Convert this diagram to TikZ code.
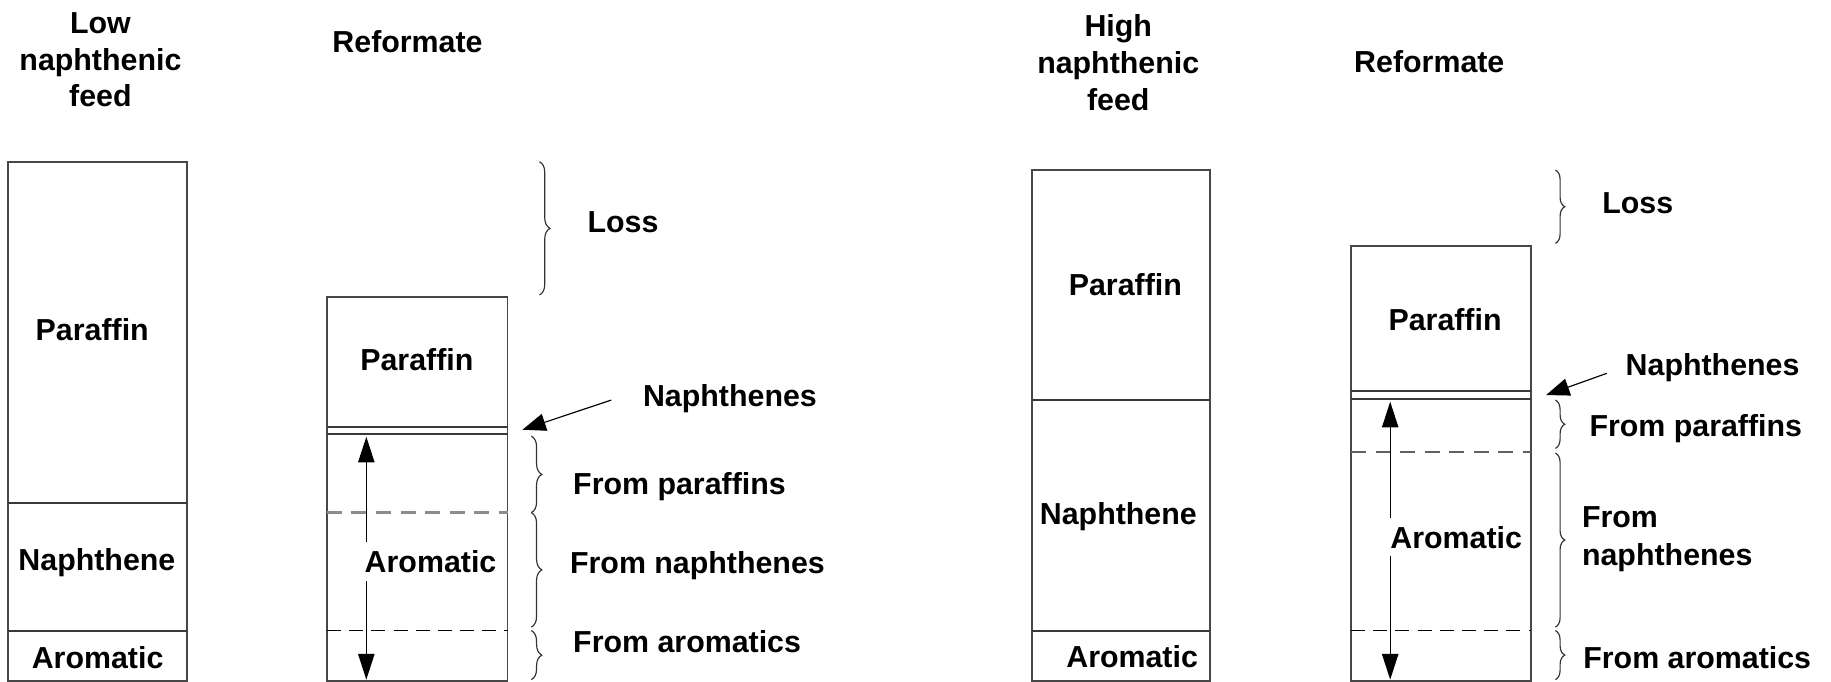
\documentclass[tikz,border=0pt]{standalone}
\usepackage{fontspec}
\setmainfont{Liberation Sans}
\usetikzlibrary{arrows.meta,decorations.pathreplacing}
\begin{document}
\begin{tikzpicture}[x=1pt,y=-1pt,
  lbl/.style={font=\bfseries\fontsize{26}{32}\selectfont, inner sep=0pt},
  ttl/.style={inner sep=0pt, align=center, font=\bfseries\fontsize{26}{31.4}\selectfont},
  twol/.style={inner sep=0pt, align=left, font=\bfseries\fontsize{26}{32.5}\selectfont},
  box/.style={draw=black!72, line width=1.7pt},
  divl/.style={draw=black!78, line width=1.7pt},
  gdash/.style={draw=black!45, line width=2pt, dash pattern=on 13pt off 8pt},
  kdash/.style={draw=black, line width=1.3pt, dash pattern=on 12pt off 7pt},
  brc/.style={draw=black!80, line width=1pt, decorate, decoration={brace, amplitude=9pt}},
  darr/.style={draw, line width=1pt, {Triangle[length=22pt,width=14pt]}-{Triangle[length=22pt,width=14pt]}},
  parr/.style={draw, line width=1pt, -{Triangle[length=20pt,width=15pt]}},
  aro/.style={lbl, fill=white, inner xsep=2pt, inner ysep=7pt}
]
\useasboundingbox (0,0) rectangle (1568,584);

% ---------------- Left panel ----------------
\node[ttl] (t1) at (86,51.4) {Low\\naphthenic\\feed};
\node[lbl] (r1) at (349,35.7) {Reformate};

% feed box
\draw[box] (6.5,138.5) rectangle (160,583);
\draw[divl] (6.5,431) -- (160,431);
\draw[divl] (6.5,540) -- (160,540);
\node[lbl] (fp1) at (79,282.6) {Paraffin};
\node[lbl] (fn1) at (83,482) {Naphthene};
\node[lbl] (fa1) at (83.6,563.6) {Aromatic};

% reformate box
\draw[box] (280,254) rectangle (434.6,583);
\draw[divl] (280,366) -- (434.6,366);
\draw[divl] (280,372) -- (434.6,372);
\draw[gdash] (280,439) -- (434.6,439);
\draw[kdash] (280,540) -- (434.6,540);
\node[lbl] (rp1) at (357,308) {Paraffin};

\coordinate (a1t) at (313.7,374);
\coordinate (a1b) at (313.7,582);
\draw[darr] (a1t) -- (a1b);
\node[aro] (ra1) at (368.7,481) {Aromatic};

% braces
\coordinate (l1a) at (462,138.5);
\coordinate (l1b) at (462,252.6);
\draw[brc] (l1a) -- (l1b);
\node[lbl, anchor=west] (loss1) at (503,190) {Loss};

\coordinate (b1a) at (455,373.5);
\coordinate (b1b) at (455,439);
\coordinate (b1c) at (455,537);
\coordinate (b1d) at (455,540);
\coordinate (b1e) at (455,582);
\draw[brc] (b1a) -- (b1b);
\draw[brc] (b1b) -- (b1c);
\draw[brc] (b1d) -- (b1e);
\node[lbl, anchor=west] (fpl1) at (490.7,417) {From paraffins};
\node[lbl, anchor=west] (fnl1) at (488,484) {From naphthenes};
\node[lbl, anchor=west] (fal1) at (490.7,549.5) {From aromatics};

\node[lbl, anchor=west] (nl1) at (550.5,341.5) {Naphthenes};
\coordinate (n1s) at (523.5,342.6);
\coordinate (n1e) at (447.4,368);
\draw[parr] (n1s) -- (n1e);

% ---------------- Right panel ----------------
\node[ttl] (t2) at (957.6,53.6) {High\\naphthenic\\feed};
\node[lbl] (r2) at (1224,52.8) {Reformate};

% feed box
\draw[box] (883.6,145.6) rectangle (1036,583);
\draw[divl] (883.6,342.6) -- (1036,342.6);
\draw[divl] (883.6,540.4) -- (1036,540.4);
\node[lbl] (fp2) at (963.7,244) {Paraffin};
\node[lbl] (fn2) at (957.7,442.5) {Naphthene};
\node[lbl] (fa2) at (969.5,562.4) {Aromatic};

% reformate box
\draw[box] (1157,210.7) rectangle (1310.8,583);
\draw[divl] (1157,334.6) -- (1310.8,334.6);
\draw[divl] (1157,342) -- (1310.8,342);
\draw[gdash, draw=black!62] (1157,386.8) -- (1310.8,386.8);
\draw[kdash] (1157,540) -- (1310.8,540);
\node[lbl] (rp2) at (1237.5,274) {Paraffin};

\coordinate (a2t) at (1190.5,344);
\coordinate (a2b) at (1190.5,582);
\draw[darr] (a2t) -- (a2b);
\node[aro] (ra2) at (1247,460) {Aromatic};

% braces
\coordinate (l2a) at (1332,145.6);
\coordinate (l2b) at (1332,208.4);
\draw[brc, decoration={brace, amplitude=8pt}] (l2a) -- (l2b);
\node[lbl, anchor=west] (loss2) at (1372,174) {Loss};

\coordinate (b2a) at (1332,342.6);
\coordinate (b2b) at (1332,384);
\coordinate (b2c) at (1332,388);
\coordinate (b2d) at (1332,537);
\coordinate (b2e) at (1332,540);
\coordinate (b2f) at (1332,582);
\draw[brc, decoration={brace, amplitude=8pt}] (b2a) -- (b2b);
\draw[brc, decoration={brace, amplitude=8pt}] (b2c) -- (b2d);
\draw[brc, decoration={brace, amplitude=8pt}] (b2e) -- (b2f);
\node[lbl, anchor=west] (fpl2) at (1361,367) {From paraffins};
\node[twol, anchor=west] (fnl2) at (1354.6,461.5) {From\\naphthenes};
\node[lbl, anchor=west] (fal2) at (1355.7,563) {From aromatics};

\node[lbl, anchor=west] (nl2) at (1392,314.5) {Naphthenes};
\coordinate (n2s) at (1376,319.7);
\coordinate (n2e) at (1324,338.3);
\draw[parr] (n2s) -- (n2e);
\end{tikzpicture}
\end{document}
